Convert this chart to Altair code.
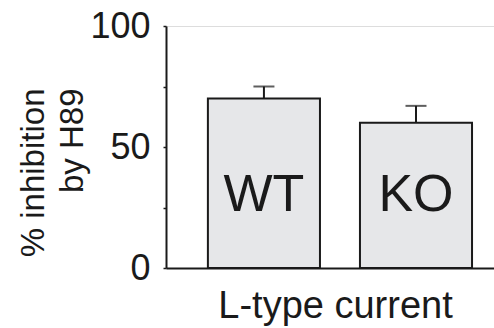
import altair as alt
import pandas as pd

groups = ["WT", "KO"]
means = [70, 60]
errors = [5, 7]

df = pd.DataFrame({"group": groups, "mean": means, "err": errors})
df["top"] = df["mean"] + df["err"]

FONT = "Liberation Sans"
INK = "#1a1a1a"

x = alt.X("group:N", sort=groups,
          scale=alt.Scale(paddingInner=0.263, paddingOuter=0.21, align=0.656),
          axis=alt.Axis(title="L-type current", labels=False, ticks=False,
                        domainColor=INK, domainWidth=2, titleFont=FONT,
                        titleFontSize=38, titleFontWeight="normal", titleColor=INK,
                        titleX=169, titleY=49, titleBaseline="alphabetic",
                        titleAlign="center", titleAnchor="start"))

y_scale = alt.Scale(domain=[0, 100], nice=False)

bars = alt.Chart(df).mark_bar(fill="#e6e7e9", stroke=INK, strokeWidth=2).encode(
    x=x,
    y=alt.Y("mean:Q", scale=y_scale,
            axis=alt.Axis(values=[0, 25, 50, 75, 100],
                          labelExpr="datum.value % 50 == 0 ? datum.label : ''",
                          grid=False, domainColor=INK, domainWidth=2,
                          tickColor=INK, tickSize=3, tickWidth=1.5,
                          labelFont=FONT, labelFontSize=36, labelColor=INK,
                          labelPadding=13,
                          title=["% inhibition", "by H89"], titleFont=FONT,
                          titleFontSize=33, titleFontWeight="normal",
                          titleColor=INK, titleAngle=-90, titleAlign="right",
                          titleBaseline="alphabetic", titleLineHeight=39,
                          titleX=-123, titleY=62)),
)

err_line = alt.Chart(df).mark_rule(color=INK, strokeWidth=2).encode(
    x=alt.X("group:N", sort=groups), y="mean:Q", y2="top:Q"
)

caps = alt.Chart(df).mark_tick(color=INK, thickness=2, size=21).encode(
    x=alt.X("group:N", sort=groups), y="top:Q"
)

labels = alt.Chart(df).mark_text(font=FONT, fontSize=52, color=INK,
                                 baseline="alphabetic", align="center").encode(
    x=alt.X("group:N", sort=groups), y=alt.datum(23.5), text="group:N"
)

chart = alt.layer(bars, err_line, caps, labels).properties(
    width=328, height=242,
    padding={"left": 166, "top": 26, "right": 0, "bottom": 60},
    autosize=alt.AutoSizeParams(type="none"),
).configure_view(stroke=None).configure(background="white")

chart.save("out.html", embed_options={"renderer": "svg", "actions": False})
